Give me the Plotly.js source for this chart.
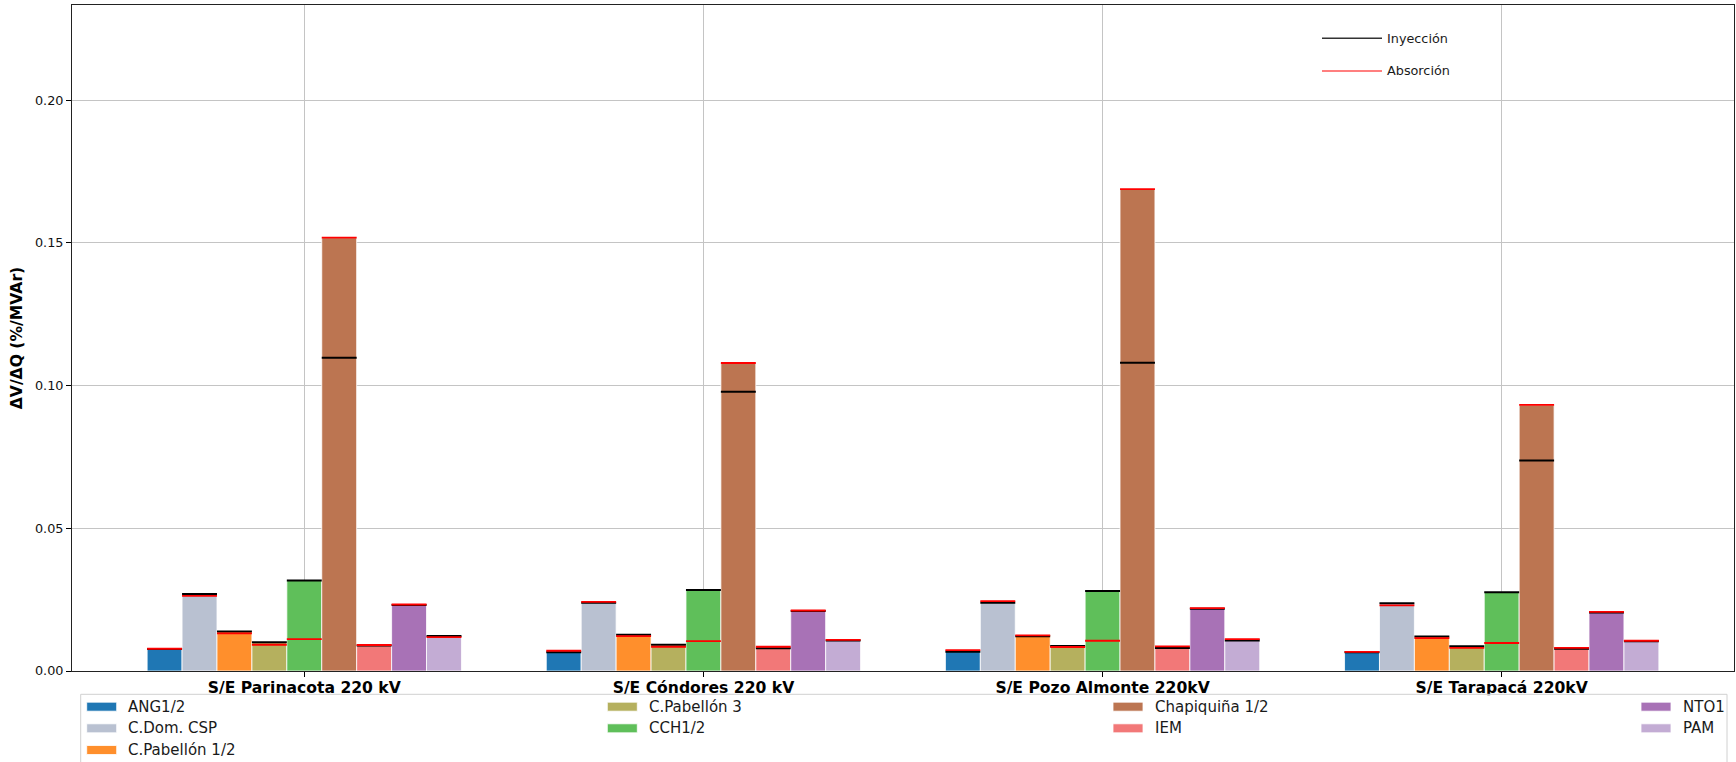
<!DOCTYPE html>
<html>
<head>
<meta charset="utf-8">
<script src="https://cdn.plot.ly/plotly-3.0.1.min.js"></script>
<style>
  html, body { margin: 0; padding: 0; background: #fff; }
  #chart { width: 1736px; height: 762px; }
</style>
</head>
<body>
<div id="chart"></div>
<script>
// Substations on the x axis
const stations = ['S/E Parinacota 220 kV', 'S/E Cóndores 220 kV', 'S/E Pozo Almonte 220kV', 'S/E Tarapacá 220kV'];

// Generating units (one bar per unit in every substation group)
const units = ['ANG1/2', 'C.Dom. CSP', 'C.Pabellón 1/2', 'C.Pabellón 3', 'CCH1/2', 'Chapiquiña 1/2', 'IEM', 'NTO1', 'PAM'];
const unitColors = ['#1f77b4', '#b9c1d1', '#ff8f2c', '#b5b05e', '#5fbf5a', '#bc7551', '#f27878', '#a872b6', '#c3acd4'];

// ΔV/ΔQ sensitivity (%/MVAr) per unit, injection and absorption, for each substation
const injParinacota = [0.0077, 0.0270, 0.0138, 0.0101, 0.0317, 0.1097, 0.0089, 0.0231, 0.0123];
const absParinacota = [0.0078, 0.0263, 0.0132, 0.0092, 0.0112, 0.1518, 0.0091, 0.0233, 0.0119];
const injCondores   = [0.0066, 0.0239, 0.0127, 0.0092, 0.0284, 0.0978, 0.0080, 0.0210, 0.0107];
const absCondores   = [0.0071, 0.0242, 0.0122, 0.0085, 0.0105, 0.1079, 0.0085, 0.0212, 0.0109];
const injPozo       = [0.0067, 0.0239, 0.0122, 0.0088, 0.0280, 0.1080, 0.0081, 0.0218, 0.0107];
const absPozo       = [0.0073, 0.0245, 0.0125, 0.0084, 0.0106, 0.1688, 0.0086, 0.0220, 0.0112];
const injTarapaca   = [0.0066, 0.0237, 0.0121, 0.0087, 0.0276, 0.0737, 0.0078, 0.0205, 0.0104];
const absTarapaca   = [0.0067, 0.0230, 0.0115, 0.0081, 0.0098, 0.0932, 0.0081, 0.0207, 0.0106];

const injection  = [injParinacota, injCondores, injPozo, injTarapaca];
const absorption = [absParinacota, absCondores, absPozo, absTarapaca];

// Layout geometry
const W = 1736, H = 762;
const M = { l: 72, r: 2, t: 5, b: 91 };
const plotW = W - M.l - M.r, plotH = H - M.t - M.b;
const BAR_W = 0.0875;
const CENTER = 4;                       // bar index sitting on the tick
const FONT = 'DejaVu Sans, Verdana, sans-serif';

const px2x = px => (px - M.l) / plotW;  // pixel -> paper x
const px2y = py => (H - M.b - py) / plotH; // pixel -> paper y

const groupIdx = stations.map((_, s) => s);
const traces = [];

// Bars: height is the larger of the two sensitivities
units.forEach((u, i) => {
  traces.push({
    type: 'bar',
    name: u,
    x: groupIdx,
    y: groupIdx.map(s => Math.max(injection[s][i], absorption[s][i])),
    width: BAR_W,
    offset: (i - CENTER) * BAR_W - BAR_W / 2,
    marker: { color: unitColors[i], line: { color: '#ffffff', width: 0.8 } },
    showlegend: false,
    hoverinfo: 'name+y'
  });
});

// Horizontal markers across each bar for injection (black) and absorption (red)
function levelTrace(name, values, color, width) {
  const xs = [], ys = [];
  groupIdx.forEach(s => {
    units.forEach((_, i) => {
      const xc = s + (i - CENTER) * BAR_W;
      xs.push(xc - BAR_W / 2, xc + BAR_W / 2, null);
      ys.push(values[s][i], values[s][i], null);
    });
  });
  return { type: 'scatter', mode: 'lines', name, x: xs, y: ys,
           line: { color, width }, showlegend: false, hoverinfo: 'name+y', cliponaxis: false };
}
traces.push(levelTrace('Inyección', injection, '#000000', 2));
traces.push(levelTrace('Absorción', absorption, '#ff0000', 1.8));

// Legend for the bar colours (four columns under the axis)
const legCols = [86.7, 607.3, 1113, 1641];
const legRows = [706.7, 728.3, 750];
const legSlot = [[0, 0], [0, 1], [0, 2], [1, 0], [1, 1], [2, 0], [2, 1], [3, 0], [3, 1]];
const shapes = [], annotations = [];

shapes.push({
  type: 'rect', xref: 'paper', yref: 'paper', layer: 'above',
  x0: px2x(80.7), x1: px2x(1727), y0: px2y(694.3), y1: px2y(800),
  line: { color: '#d0d0d0', width: 1 }, fillcolor: 'rgba(255,255,255,0.8)'
});
units.forEach((u, i) => {
  const [c, r] = legSlot[i];
  const x0 = legCols[c], yc = legRows[r];
  shapes.push({
    type: 'rect', xref: 'paper', yref: 'paper', layer: 'above',
    x0: px2x(x0), x1: px2x(x0 + 30), y0: px2y(yc - 4.5), y1: px2y(yc + 4.5),
    fillcolor: unitColors[i], line: { color: '#ffffff', width: 0.8 }
  });
  annotations.push({
    xref: 'paper', yref: 'paper', x: px2x(x0 + 39.5), y: px2y(yc),
    xanchor: 'left', yanchor: 'middle', showarrow: false, text: u,
    font: { family: FONT, size: 15, color: '#1a1a1a' }
  });
});

// Legend for the two marker lines (top right, no frame)
const lineKeys = [
  { name: 'Inyección', color: '#333333', width: 1.5, y: 38.3 },
  { name: 'Absorción', color: '#ff0000', width: 1.2, y: 71 }
];
lineKeys.forEach(k => {
  shapes.push({
    type: 'line', xref: 'paper', yref: 'paper', layer: 'above',
    x0: px2x(1322), x1: px2x(1382), y0: px2y(k.y), y1: px2y(k.y),
    line: { color: k.color, width: k.width }
  });
  annotations.push({
    xref: 'paper', yref: 'paper', x: px2x(1384.5), y: px2y(k.y),
    xanchor: 'left', yanchor: 'middle', showarrow: false, text: k.name,
    font: { family: FONT, size: 12.8, color: '#1a1a1a' }
  });
});

const layout = {
  width: W, height: H,
  margin: M,
  paper_bgcolor: '#ffffff', plot_bgcolor: '#ffffff',
  barmode: 'overlay',
  showlegend: false,
  font: { family: FONT, color: '#111111' },
  xaxis: {
    range: [-0.582, 3.582],
    tickvals: groupIdx, ticktext: stations,
    tickfont: { family: FONT, size: 15.6, weight: 'bold', color: '#000000' },
    ticks: 'outside', ticklen: 5, tickcolor: '#000000', tickwidth: 1,
    ticklabelstandoff: -3,
    showgrid: true, gridcolor: '#c4c4c4', gridwidth: 1,
    showline: true, mirror: true, linecolor: '#222222', linewidth: 1,
    zeroline: false
  },
  yaxis: {
    range: [0, 0.2333],
    tickvals: [0, 0.05, 0.10, 0.15, 0.20],
    tickformat: '.2f',
    tickfont: { family: FONT, size: 12.8, color: '#111111' },
    ticks: 'outside', ticklen: 5, tickcolor: '#000000', tickwidth: 1,
    showgrid: true, gridcolor: '#c4c4c4', gridwidth: 1,
    showline: true, mirror: true, linecolor: '#222222', linewidth: 1,
    zeroline: false,
    title: { text: 'ΔV/ΔQ (%/MVAr)', standoff: 8,
             font: { family: FONT, size: 15.6, weight: 'bold', color: '#000000' } }
  },
  shapes, annotations
};

Plotly.newPlot('chart', traces, layout, { displayModeBar: false, staticPlot: true });
</script>
</body>
</html>
